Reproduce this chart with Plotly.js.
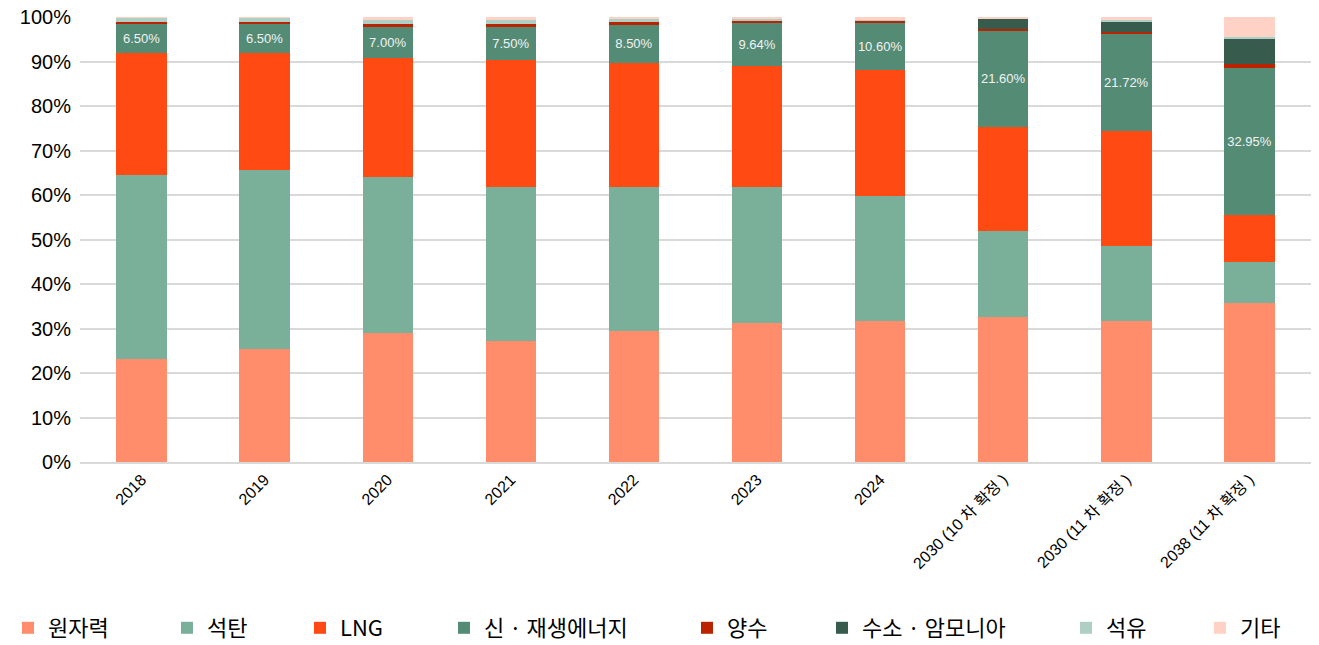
<!DOCTYPE html>
<html>
<head>
<meta charset="utf-8">
<script src="https://cdn.plot.ly/plotly-3.0.1.min.js"></script>
<style>
  body { margin: 0; background: #fff; }
  #chart { width: 1319px; height: 645px; }
</style>
</head>
<body>
<div id="chart"></div>
<script>
// 연도 / 계획 구분
const years = ['2018', '2019', '2020', '2021', '2022', '2023', '2024',
  '2030 (10 차 확정 )', '2030 (11 차 확정 )', '2038 (11 차 확정 )'];

// 전원별 발전 비중 (%)
const nuclear   = [23.1, 25.4, 29.0, 27.2, 29.4, 31.2, 31.7, 32.6, 31.7, 35.7];
const coal      = [41.4, 40.2, 35.0, 34.6, 32.4, 30.6, 28.1, 19.3, 16.8, 9.2];
const lng       = [27.4, 26.3, 26.8, 28.5, 27.9, 27.2, 28.3, 23.4, 25.9, 10.6];
const renewable = [6.5, 6.5, 7.0, 7.5, 8.5, 9.64, 10.6, 21.6, 21.72, 32.95];
const pumped    = [0.5, 0.5, 0.6, 0.6, 0.6, 0.5, 0.5, 0.5, 0.6, 0.9];
const hydrogen  = [0, 0, 0, 0, 0, 0, 0, 2.1, 2.2, 5.8];
const oil       = [0.8, 0.8, 0.9, 0.9, 0.7, 0.3, 0.2, 0, 0.3, 0.3];
const other     = [0.3, 0.3, 0.7, 0.7, 0.5, 0.6, 0.6, 0.5, 0.8, 4.55];

const renewLabels = renewable.map(v => v.toFixed(2) + '%');

// 범례 항목 위치 (픽셀, 왼쪽 기준)
const legendLeft = [8, 167, 300, 444, 687, 822, 1066, 1200];

function bar(name, values, color, extra) {
    return Object.assign({
        type: 'bar',
        name: name,
        x: years,
        y: values,
        marker: { color: color },
        hoverinfo: 'name+y'
    }, extra || {});
}

const traces = [
    bar('원자력', nuclear, '#FF8C6B'),
    bar('석탄', coal, '#7AAF9A'),
    bar('LNG', lng, '#FF4A14'),
    bar('신 · 재생에너지', renewable, '#548B75', {
        text: renewLabels,
        textposition: 'inside',
        insidetextanchor: 'middle',
        textangle: 0,
        constraintext: 'none',
        insidetextfont: { color: '#F2F2F2', size: 13, family: 'Liberation Sans, Arial, sans-serif' }
    }),
    bar('양수', pumped, '#BB2200'),
    bar('수소 · 암모니아', hydrogen, '#375B4C'),
    bar('석유', oil, '#AFCFC4'),
    bar('기타', other, '#FFD2C5')
];

const layout = {
    barmode: 'stack',
    bargap: 0.59,
    width: 1319,
    height: 645,
    margin: { l: 80, r: 8, t: 17, b: 183 },
    paper_bgcolor: '#fff',
    plot_bgcolor: '#fff',
    font: { family: 'Liberation Sans, Noto Sans CJK KR, sans-serif', color: '#000' },
    xaxis: {
        type: 'category',
        tickangle: -45,
        tickfont: { size: 16, family: 'Liberation Sans, Noto Sans CJK KR, sans-serif' },
        showline: true,
        linecolor: '#D9D9D9',
        linewidth: 2,
        ticks: ''
    },
    yaxis: {
        range: [0, 100],
        tickvals: [0, 10, 20, 30, 40, 50, 60, 70, 80, 90, 100],
        ticktext: ['0%', '10%', '20%', '30%', '40%', '50%', '60%', '70%', '80%', '90%', '100%'],
        tickfont: { size: 20 },
        gridcolor: '#D9D9D9',
        gridwidth: 2,
        zeroline: false,
        ticklen: 4,
        ticks: 'outside',
        tickcolor: '#fff'
    },
    showlegend: true
};

// 항목마다 범례를 따로 두어 원본처럼 배치
traces.forEach((t, i) => {
    const key = i === 0 ? 'legend' : 'legend' + (i + 1);
    t.legend = key;
    layout[key] = {
        orientation: 'h',
        x: legendLeft[i] / 1319,
        xref: 'container',
        xanchor: 'left',
        y: 17 / 645,
        yref: 'container',
        yanchor: 'middle',
        bgcolor: 'rgba(0,0,0,0)',
        font: { size: 22, family: 'Noto Sans CJK KR, Liberation Sans, sans-serif' },
        itemclick: false
    };
});

Plotly.newPlot('chart', traces, layout, { displayModeBar: false, staticPlot: true });
</script>
</body>
</html>
